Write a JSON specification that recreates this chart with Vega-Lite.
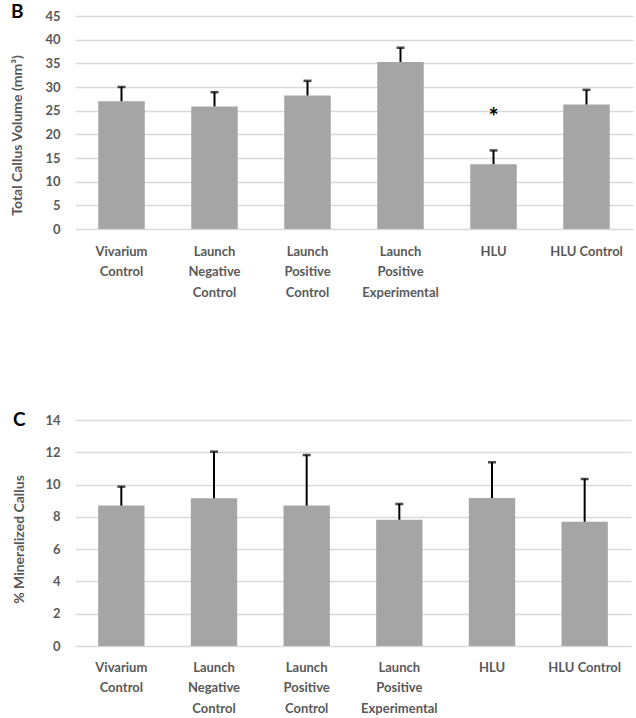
{
  "$schema": "https://vega.github.io/schema/vega-lite/v6.json",
  "padding": {"left": 10, "top": 3, "right": 3, "bottom": 0},
  "background": "white",
  "config": {
    "font": "Lato",
    "view": {"stroke": null},
    "axis": {"labelFont": "Lato", "labelFontWeight": "bold", "labelColor": "#595959", "labelFontSize": 13, "titleFont": "Lato", "titleFontWeight": "bold", "titleColor": "#595959", "titleFontSize": 14, "labelOverlap": false},
    "title": {"font": "Lato", "fontWeight": "bold", "fontSize": 19, "color": "#000000", "anchor": "start", "frame": "bounds"}
  },
  "datasets": {
    "volume": [
      {"group": "Vivarium Control", "value": 27.0, "upper": 30.0, "sig": null},
      {"group": "Launch Negative Control", "value": 25.9, "upper": 28.9, "sig": null},
      {"group": "Launch Positive Control", "value": 28.2, "upper": 31.3, "sig": null},
      {"group": "Launch Positive Experimental", "value": 35.3, "upper": 38.3, "sig": null},
      {"group": "HLU", "value": 13.7, "upper": 16.6, "sig": "*"},
      {"group": "HLU Control", "value": 26.3, "upper": 29.4, "sig": null}
    ],
    "mineral": [
      {"group": "Vivarium Control", "value": 8.7, "upper": 9.87},
      {"group": "Launch Negative Control", "value": 9.15, "upper": 12.04},
      {"group": "Launch Positive Control", "value": 8.7, "upper": 11.83},
      {"group": "Launch Positive Experimental", "value": 7.82, "upper": 8.8},
      {"group": "HLU", "value": 9.17, "upper": 11.38},
      {"group": "HLU Control", "value": 7.7, "upper": 10.35}
    ]
  },
  "concat": [
    {
      "title": {"text": "B", "dy": 16},
      "width": 558,
      "height": 213,
      "data": {"name": "volume"},
      "encoding": {
        "x": {"field": "group", "type": "nominal", "sort": null,
              "scale": {"paddingInner": 0.5, "paddingOuter": 0.25},
              "axis": {"title": null, "labelAngle": 0, "ticks": false, "domain": false, "labelPadding": 16, "labelLineHeight": 20.5, "labelBaseline": "top",
                       "labelExpr": "datum.value == 'HLU Control' ? datum.value : split(datum.value, ' ')"}}
      },
      "layer": [
        {"mark": {"type": "bar", "color": "#a5a5a5"},
         "encoding": {"y": {"field": "value", "type": "quantitative",
                            "scale": {"domain": [0, 45]},
                            "axis": {"title": "Total Callus Volume (mm³)", "titleY": 119, "values": [0,5,10,15,20,25,30,35,40,45], "domain": false, "ticks": false, "gridColor": "#d9d9d9", "gridWidth": 1.5, "labelPadding": 15, "titlePadding": 20}}}},
        {"mark": {"type": "rule", "color": "#000000", "strokeWidth": 2},
         "encoding": {"y": {"field": "value", "type": "quantitative",
                            "axis": {"title": "Total Callus Volume (mm³)", "titleY": 119, "values": [0,5,10,15,20,25,30,35,40,45], "domain": false, "ticks": false, "gridColor": "#d9d9d9", "gridWidth": 1.5, "labelPadding": 15, "titlePadding": 20}},
                      "y2": {"field": "upper"}}},
        {"mark": {"type": "tick", "color": "#000000", "thickness": 2.5, "size": 8},
         "encoding": {"y": {"field": "upper", "type": "quantitative",
                            "axis": {"title": "Total Callus Volume (mm³)", "titleY": 119, "values": [0,5,10,15,20,25,30,35,40,45], "domain": false, "ticks": false, "gridColor": "#d9d9d9", "gridWidth": 1.5, "labelPadding": 15, "titlePadding": 20}}}},
        {"transform": [{"filter": "datum.sig != null"}],
         "mark": {"type": "text", "fontSize": 24, "fontWeight": "bold", "color": "#000000", "baseline": "middle", "dy": -31},
         "encoding": {"y": {"field": "upper", "type": "quantitative",
                            "axis": {"title": "Total Callus Volume (mm³)", "titleY": 119, "values": [0,5,10,15,20,25,30,35,40,45], "domain": false, "ticks": false, "gridColor": "#d9d9d9", "gridWidth": 1.5, "labelPadding": 15, "titlePadding": 20}},
                      "text": {"field": "sig"}}}
      ]
    },
    {
      "title": {"text": "C", "dy": 20},
      "width": 556,
      "height": 226,
      "data": {"name": "mineral"},
      "encoding": {
        "x": {"field": "group", "type": "nominal", "sort": null,
              "scale": {"paddingInner": 0.5, "paddingOuter": 0.25},
              "axis": {"title": null, "labelAngle": 0, "ticks": false, "domain": false, "labelPadding": 15, "labelLineHeight": 20.5, "labelBaseline": "top",
                       "labelExpr": "datum.value == 'HLU Control' ? datum.value : split(datum.value, ' ')"}}
      },
      "layer": [
        {"mark": {"type": "bar", "color": "#a5a5a5"},
         "encoding": {"y": {"field": "value", "type": "quantitative",
                            "scale": {"domain": [0, 14]},
                            "axis": {"title": "% Mineralized Callus", "titleY": 119, "values": [0,2,4,6,8,10,12,14], "domain": false, "ticks": false, "gridColor": "#d9d9d9", "gridWidth": 1.5, "labelPadding": 15, "titlePadding": 18}}}},
        {"mark": {"type": "rule", "color": "#000000", "strokeWidth": 2},
         "encoding": {"y": {"field": "value", "type": "quantitative",
                            "axis": {"title": "% Mineralized Callus", "titleY": 119, "values": [0,2,4,6,8,10,12,14], "domain": false, "ticks": false, "gridColor": "#d9d9d9", "gridWidth": 1.5, "labelPadding": 15, "titlePadding": 18}},
                      "y2": {"field": "upper"}}},
        {"mark": {"type": "tick", "color": "#000000", "thickness": 2.5, "size": 8},
         "encoding": {"y": {"field": "upper", "type": "quantitative",
                            "axis": {"title": "% Mineralized Callus", "titleY": 119, "values": [0,2,4,6,8,10,12,14], "domain": false, "ticks": false, "gridColor": "#d9d9d9", "gridWidth": 1.5, "labelPadding": 15, "titlePadding": 18}}}}
      ]
    }
  ],
  "columns": 1,
  "spacing": 112,
  "align": "none",
  "bounds": "full"
}
